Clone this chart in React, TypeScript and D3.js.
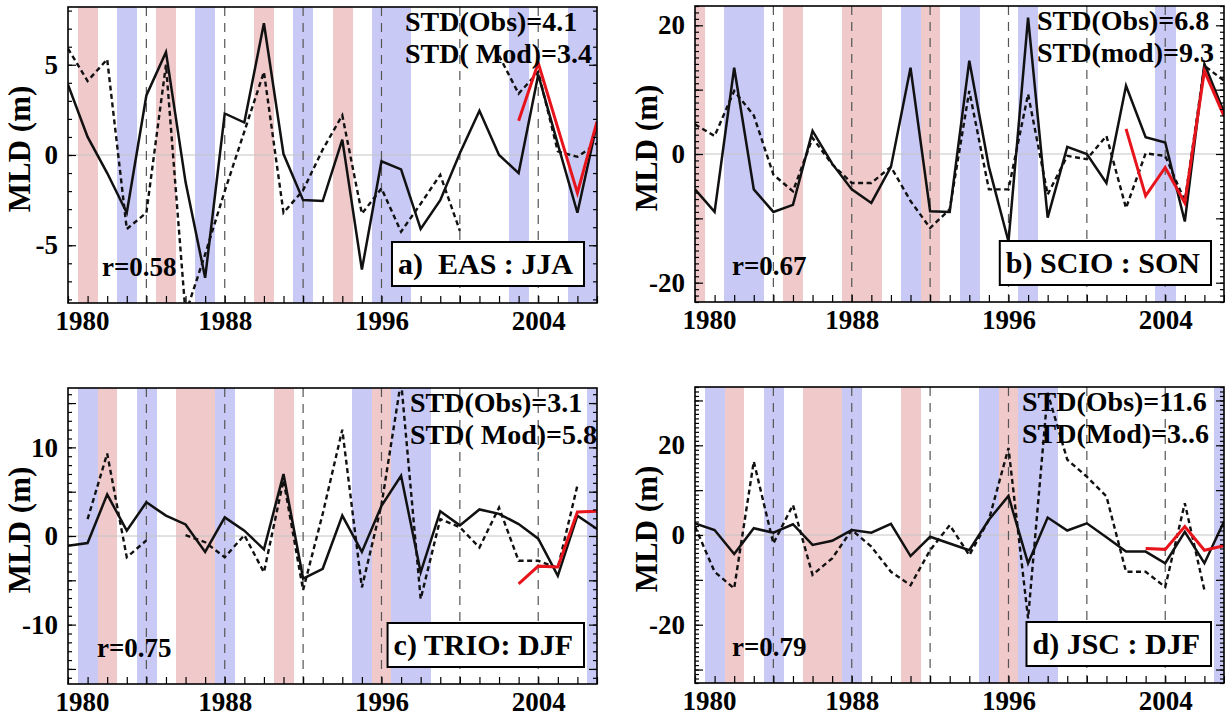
import React, { useEffect, useRef } from 'react';
import * as d3 from 'd3';

const years = [1980, 1981, 1982, 1983, 1984, 1985, 1986, 1987, 1988, 1989, 1990, 1991, 1992, 1993,
  1994, 1995, 1996, 1997, 1998, 1999, 2000, 2001, 2002, 2003, 2004, 2005, 2006, 2007];
const yearLabels = [1980, 1988, 1996, 2004];
const gridYears = [1984, 1988, 1992, 1996, 2000, 2004];

// a) EAS : JJA
const easObs = [3.9, 1.0, -1.0, -3.2, 3.3, 5.7, -1.5, -6.8, 2.3, 1.8, 7.3, 0.05, -2.5, -2.55,
  0.85, -6.35, -0.35, -0.8, -4.1, -2.5, 0.1, 2.45, 0.0, -1.0, 4.45, 0.6, -3.2, 1.75];
const easMod = [5.9, 4.1, 5.3, -4.1, -3.2, 5.0, -8.8, -5.5, -2.0, 1.3, 4.6, -3.2, -1.95, 0.3,
  2.2, -3.25, -1.85, -4.25, -2.7, -1.1, -4.2, null, 5.5, 3.4, 4.6, 0.2, -0.1, 0.65];
const easRed = [null, null, null, null, null, null, null, null, null, null, null, null, null, null,
  null, null, null, null, null, null, null, null, null, 1.9, 5.1, 1.5, -2.1, 1.85];

// b) SCIO : SON
const scioObs = [-5.5, -9.0, 13.4, -5.5, -9.0, -7.9, 3.6, -1.5, -5.5, -7.6, -2.0, 13.4, -8.9, -9.0,
  14.5, -2.0, -13.6, 21.2, -9.9, 1.1, 0.0, -4.5, 10.6, 2.6, 1.8, -10.5, 14.0, 6.5];
const scioMod = [4.6, 2.8, 9.8, 6.0, -3.2, -5.8, 2.5, -1.6, -4.5, -4.5, -2.0, -7.3, -11.5, -8.6,
  9.8, -5.5, -5.5, 9.3, -6.3, -0.3, -0.8, 2.8, -8.4, 0.1, -0.3, -7.3, 13.7, 11.4];
const scioRed = [null, null, null, null, null, null, null, null, null, null, null, null, null, null,
  null, null, null, null, null, null, null, null, 3.9, -6.5, -2.1, -7.6, 12.9, 5.9];

// c) TRIO : DJF
const trioObs = [-1.1, -0.8, 4.7, 0.6, 3.8, 2.3, 1.3, -1.8, 2.1, 0.6, -1.5, 7.0, -4.8, -3.7,
  2.3, -1.8, 3.4, 6.8, -4.1, 2.8, 1.2, 3.0, 2.5, 1.35, -0.3, -4.5, 2.3, 0.8];
const trioMod = [null, 1.9, 9.3, -2.4, -0.5, null, 0.1, -0.7, -2.4, 0.1, -4.1, 6.3, -6.1, 2.5,
  12.0, -5.8, 3.5, 17.5, -7.1, 1.9, 1.0, -1.3, 3.2, -2.8, -2.8, -3.6, 5.7, null];
const trioRed = [null, null, null, null, null, null, null, null, null, null, null, null, null, null,
  null, null, null, null, null, null, null, null, null, -5.4, -3.4, -3.5, 2.7, 2.8];

// d) JSC : DJF
const jscObs = [2.6, 1.1, -4.25, 1.5, 0.5, 2.4, -2.2, -1.3, 1.1, 0.5, 2.5, -4.7, -0.4, -1.9,
  -3.4, 3.4, 8.7, -6.3, 3.9, 1.0, 2.6, -0.5, -3.7, -3.7, -6.3, 0.7, -6.3, 3.0];
const jscMod = [1.9, -8.2, -11.9, 16.4, -1.9, 6.7, -8.9, -5.2, 1.1, -2.6, -8.2, -11.2, -3.4, 2.2,
  -4.5, 3.4, 19.4, -18.6, 31.7, 16.8, 13.0, 8.6, -8.2, -8.2, -11.6, 7.1, -12.3, null];
const jscRed = [null, null, null, null, null, null, null, null, null, null, null, null, null, null,
  null, null, null, null, null, null, null, null, null, -3.0, -3.2, 1.9, -3.4, -2.4];

// warm (pink) and cold (blue) years for each season
const jjaPink = [1981, 1985, 1990, 1994];
const jjaBlue = [1983, 1987, 1992, 1996, 1997, 2003, 2006, 2007];
const sonPink = [1980, 1985, 1988, 1989, 1992];
const sonBlue = [1982, 1983, 1991, 1994, 1997, 2004];
const djfPink = [1982, 1986, 1987, 1991, 1996];
const djfBlue = [1981, 1984, 1988, 1995, 1997, 1998, 2007];

const W = 529;
const H = 296;
const PINK = '#f0c9cb';
const BLUE = '#c9c9f6';
const FONT = '"Liberation Serif", "Times New Roman", serif';

const panels = [
  { id: 'a', left: 68, top: 7, ymax: 8.2, labels: [-5, 0, 5], major: 5, obs: easObs, mod: easMod, red: easRed,
    pink: jjaPink, blue: jjaBlue, std: ['STD(Obs)=4.1', 'STD( Mod)=3.4'], stdX: 337, r: 'r=0.58', rX: 34,
    title: 'a)  EAS : JJA' },
  { id: 'b', left: 695, top: 6, ymax: 23, labels: [-20, 0, 20], major: 10, obs: scioObs, mod: scioMod, red: scioRed,
    pink: sonPink, blue: sonBlue, std: ['STD(Obs)=6.8', 'STD(mod)=9.3'], stdX: 342, r: 'r=0.67', rX: 37,
    title: 'b) SCIO : SON' },
  { id: 'c', left: 68, top: 388, ymax: 16.7, labels: [-10, 0, 10], major: 5, obs: trioObs, mod: trioMod, red: trioRed,
    pink: djfPink, blue: djfBlue, std: ['STD(Obs)=3.1', 'STD( Mod)=5.8'], stdX: 342, r: 'r=0.75', rX: 29,
    title: 'c) TRIO: DJF' },
  { id: 'd', left: 695, top: 387, ymax: 33, labels: [-20, 0, 20], major: 10, obs: jscObs, mod: jscMod, red: jscRed,
    pink: djfPink, blue: djfBlue, std: ['STD(Obs)=11.6', 'STD(Mod)=3..6'], stdX: 327, r: 'r=0.79', rX: 37,
    title: 'd) JSC : DJF' },
];

const styleAxis = (sel, size) => {
  sel.select('.domain').remove();
  sel.attr('font-family', FONT).attr('font-size', size).attr('font-weight', 'bold');
  sel.selectAll('line').attr('stroke', '#000').attr('stroke-width', 1.2);
  sel.selectAll('text').attr('fill', '#000');
};

const drawPanel = (svg, p) => {
  const g = svg.append('g').attr('transform', `translate(${p.left},${p.top})`);
  const x = d3.scaleLinear().domain([1980, 2007]).range([0, W]);
  const y = d3.scaleLinear().domain([-p.ymax, p.ymax]).range([H, 0]);
  const bw = x(1981) - x(1980);

  const clipId = `clip-${p.id}`;
  g.append('clipPath').attr('id', clipId).append('rect').attr('width', W).attr('height', H);
  const plot = g.append('g').attr('clip-path', `url(#${clipId})`);

  plot.selectAll('rect.pink').data(p.pink).join('rect').attr('class', 'pink')
    .attr('x', d => x(d) - bw / 2).attr('width', bw + 0.5).attr('y', 0).attr('height', H)
    .attr('fill', PINK).attr('shape-rendering', 'crispEdges');
  plot.selectAll('rect.blue').data(p.blue).join('rect').attr('class', 'blue')
    .attr('x', d => x(d) - bw / 2).attr('width', bw + 0.5).attr('y', 0).attr('height', H)
    .attr('fill', BLUE).attr('shape-rendering', 'crispEdges');

  plot.append('line').attr('x1', 0).attr('x2', W).attr('y1', y(0)).attr('y2', y(0))
    .attr('stroke', '#c4c4c4').attr('stroke-width', 1);

  plot.selectAll('line.grid').data(gridYears).join('line').attr('class', 'grid')
    .attr('x1', d => x(d)).attr('x2', d => x(d)).attr('y1', 0).attr('y2', H)
    .attr('stroke', '#555').attr('stroke-width', 1.2).attr('stroke-dasharray', '9,7');

  const line = d3.line()
    .defined(d => d[1] !== null)
    .x(d => x(d[0]))
    .y(d => y(d[1]));
  const pts = arr => years.map((yr, i) => [yr, arr[i]]);

  plot.append('path').attr('d', line(pts(p.mod))).attr('fill', 'none')
    .attr('stroke', '#111').attr('stroke-width', 2.4).attr('stroke-dasharray', '5,3.5');
  plot.append('path').attr('d', line(pts(p.obs))).attr('fill', 'none')
    .attr('stroke', '#111').attr('stroke-width', 2.5).attr('stroke-linejoin', 'miter');
  plot.append('path').attr('d', line(pts(p.red))).attr('fill', 'none')
    .attr('stroke', '#e8141c').attr('stroke-width', 3);

  // axes ticks (inward)
  const minor = d3.range(-Math.floor(p.ymax), Math.floor(p.ymax) + 1);
  const majors = minor.filter(v => v % p.major === 0);
  g.append('g').call(d3.axisLeft(y).tickValues(minor).tickSize(-4).tickFormat(() => ''))
    .call(s => styleAxis(s, 10));
  g.append('g').call(d3.axisLeft(y).tickValues(majors).tickSize(-8).tickFormat(() => ''))
    .call(s => styleAxis(s, 10));
  g.append('g').attr('transform', `translate(${W},0)`)
    .call(d3.axisRight(y).tickValues(minor).tickSize(-4).tickFormat(() => ''))
    .call(s => styleAxis(s, 10));
  g.append('g').attr('transform', `translate(${W},0)`)
    .call(d3.axisRight(y).tickValues(majors).tickSize(-8).tickFormat(() => ''))
    .call(s => styleAxis(s, 10));
  g.append('g').attr('transform', `translate(0,${H})`)
    .call(d3.axisBottom(x).tickValues(years).tickSize(-7).tickFormat(() => ''))
    .call(s => styleAxis(s, 10));

  // tick labels
  g.append('g').call(d3.axisLeft(y).tickValues(p.labels).tickSize(0).tickPadding(10).tickFormat(d => String(d)))
    .call(s => styleAxis(s, 27));
  const xl = g.append('g').attr('transform', `translate(0,${H})`)
    .call(d3.axisBottom(x).tickValues(yearLabels).tickSize(0).tickPadding(8).tickFormat(d => String(d)))
    .call(s => styleAxis(s, 27));
  xl.selectAll('text').filter(d => d === 1980).attr('dx', 14);

  g.append('rect').attr('width', W).attr('height', H).attr('fill', 'none')
    .attr('stroke', '#000').attr('stroke-width', 1.6);

  g.append('text')
    .attr('transform', `translate(-38,${H / 2 - 6}) rotate(-90)`)
    .attr('text-anchor', 'middle').attr('font-family', FONT).attr('font-weight', 'bold')
    .attr('font-size', 31).text('MLD (m)');

  g.selectAll('text.std').data(p.std).join('text').attr('class', 'std')
    .attr('x', p.stdX).attr('y', (d, i) => 24 + i * 32)
    .attr('font-family', FONT).attr('font-weight', 'bold').attr('font-size', 28).text(d => d);

  g.append('text').attr('x', p.rX).attr('y', 269)
    .attr('font-family', FONT).attr('font-weight', 'bold').attr('font-size', 27).text(p.r);

  const boxRight = 516;
  const box = g.append('rect').attr('y', 235).attr('height', 44)
    .attr('fill', '#fff').attr('stroke', '#000').attr('stroke-width', 2);
  const t = g.append('text').attr('x', boxRight - 11).attr('y', 267).attr('text-anchor', 'end')
    .attr('font-family', FONT).attr('font-weight', 'bold').attr('font-size', 30)
    .style('white-space', 'pre').text(p.title);
  const bb = t.node().getBBox();
  box.attr('x', bb.x - 6).attr('width', boxRight - (bb.x - 6));
};

const App = () => {
  const svgRef = useRef(null);

  useEffect(() => {
    const svg = d3.select(svgRef.current);
    svg.selectAll('*').remove();
    svg.append('rect').attr('width', 1225).attr('height', 719).attr('fill', '#fff');
    panels.forEach(p => drawPanel(svg, p));
  }, []);

  return (
    <svg
      ref={svgRef}
      width={1225}
      height={719}
      style={{ position: 'absolute', left: 0, top: 0, display: 'block' }}
    />
  );
};

export default App;
